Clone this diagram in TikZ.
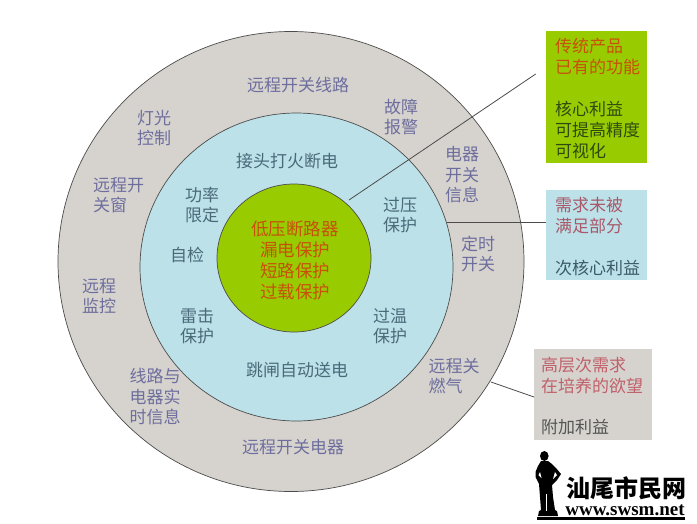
\documentclass[tikz,border=0pt]{standalone}
\usepackage{fontspec}
\setmainfont{Noto Sans CJK SC}
\newfontfamily\logofont{Liberation Serif}
\begin{document}
\begin{tikzpicture}[x=1pt,y=-1pt,
  ring/.style={draw=black!70,line width=0.7pt},
  lbl/.style={inner sep=0pt,font=\fontsize{17}{20.5}\selectfont},
  outertxt/.style={lbl,align=center,text=outercol},
  outerleft/.style={lbl,align=left,text=outercol},
  midtxt/.style={lbl,align=center,text=midcol},
  coretxt/.style={lbl,align=center,text=corecol},
  boxfill/.style={inner sep=0pt,anchor=north west},
  boxtxt/.style={lbl,align=left,anchor=west,font=\fontsize{17}{21}\selectfont},
  leader/.style={draw=black!70,line width=0.8pt}]
\definecolor{outercol}{HTML}{6E6E9E}
\definecolor{midcol}{HTML}{4A6A7A}
\definecolor{corecol}{HTML}{C8500A}
\definecolor{grayfill}{HTML}{D6D3CE}
\definecolor{bluefill}{HTML}{BDE1E9}
\definecolor{greenfill}{HTML}{99CC00}
\definecolor{redgray}{HTML}{C0606A}
\definecolor{redblue}{HTML}{A85868}
\definecolor{darkgreen}{HTML}{2F4A10}
\definecolor{darkblue}{HTML}{3A5A6A}
\definecolor{darkgray}{HTML}{555555}
\useasboundingbox (0,0) rectangle (697,523);
\fill[white] (0,0) rectangle (697,523);
% rings
\path[ring,fill=grayfill] (291,261.5) ellipse [x radius=233,y radius=230];
\path[ring,fill=bluefill] (296.5,267) ellipse [x radius=156.5,y radius=154];
\path[ring,fill=greenfill] (294,258) ellipse [x radius=77,y radius=74];
% boxes
\node[boxfill,fill=greenfill,minimum width=101pt,minimum height=132pt] (gbox) at (546,31) {};
\node[boxfill,fill=bluefill,minimum width=101pt,minimum height=90pt] (bbox) at (546,190) {};
\node[boxfill,fill=grayfill,minimum width=118pt,minimum height=91pt] (ybox) at (534,349) {};
% leaders
\coordinate (gstart) at (349,200);
\coordinate (gend) at (535.7,74);
\coordinate (bstart) at (447,222.7);
\coordinate (bend) at (546,222.7);
\coordinate (ystart) at (491,382);
\coordinate (yend) at (534,397);
\draw[leader] (gstart) -- (gend);
\draw[leader,line width=1pt] (bstart) -- (bend);
\draw[leader] (ystart) -- (yend);
% outer labels
\node[outertxt] (o1) at (298,85) {远程开关线路};
\node[outertxt] (o2) at (401,117) {故障\\报警};
\node[outertxt] (o3) at (154,128) {灯光\\控制};
\node[outertxt] (o4) at (462,175) {电器\\开关\\信息};
\node[outerleft] (o5) at (118.5,195) {远程开\\关窗};
\node[outertxt] (o6) at (478,254) {定时\\开关};
\node[outertxt] (o7) at (99,296) {远程\\监控};
\node[outertxt] (o8) at (155,397) {线路与\\电器实\\时信息};
\node[outerleft] (o9) at (454,376) {远程关\\燃气};
\node[outertxt] (o10) at (293,447) {远程开关电器};
% middle labels
\node[midtxt] (m1) at (287,161) {接头打火断电};
\node[midtxt] (m2) at (202,205) {功率\\限定};
\node[midtxt] (m3) at (400,215) {过压\\保护};
\node[midtxt] (m4) at (187,255) {自检};
\node[midtxt] (m5) at (197,326) {雷击\\保护};
\node[midtxt] (m6) at (390,326) {过温\\保护};
\node[midtxt] (m7) at (297,370) {跳闸自动送电};
% core
\node[coretxt,font=\fontsize{17.5}{21}\selectfont] (c1) at (295,260) {低压断路器\\漏电保护\\短路保护\\过载保护};
% box text
\node[boxtxt,text=corecol] (g1) at (555,56.5) {传统产品\\已有的功能};
\node[boxtxt,text=darkgreen] (g2) at (555,130) {核心利益\\可提高精度\\可视化};
\node[boxtxt,text=redblue] (b1) at (555,215.5) {需求未被\\满足部分};
\node[boxtxt,text=darkblue] (b2) at (555,268) {次核心利益};
\node[boxtxt,text=redgray] (y1) at (541,375.5) {高层次需求\\在培养的欲望};
\node[boxtxt,text=darkgray] (y2) at (541,427) {附加利益};
% logo
\fill[black] (544.3,456) ellipse [x radius=4.3,y radius=5];
\fill[black] (541,461) -- (548,461) -- (552,464) -- (556,468) -- (561,474) -- (557,480) -- (552,485) -- (553,497) -- (555,510) -- (557,511) -- (558,516) -- (538,516) -- (539,511) -- (541,510) -- (540,497) -- (539,484) -- (535.5,477) -- (535.5,472) -- (538,466) -- cycle;
\fill[white] (540,472) -- (541.5,478) -- (538.5,475) -- cycle;
\fill[white] (555,472) -- (553,479) -- (557,475) -- cycle;
\fill[white] (546,494) rectangle (547.2,511);
\fill[black] (537,517) rectangle (685,519.5);
\node[inner sep=0pt,font=\fontsize{24}{24}\bfseries\selectfont] (logoa) at (626,488) {汕尾市民网};
\node[inner sep=0pt,font=\logofont\fontsize{19}{19}\bfseries\selectfont] (logob) at (625,510) {www.swsm.net};
\end{tikzpicture}
\end{document}
